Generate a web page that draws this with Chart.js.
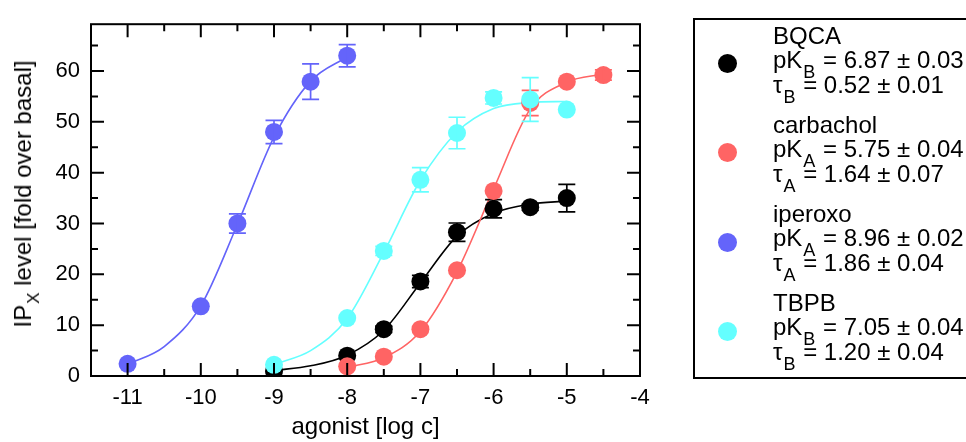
<!DOCTYPE html>
<html>
<head>
<meta charset="utf-8">
<script src="https://cdn.jsdelivr.net/npm/chart.js@4.4.0/dist/chart.umd.min.js"></script>
<style>
    body { margin: 0; background: #fff; }
    #wrap { position: relative; width: 966px; height: 442px; overflow: hidden; font-family: "Liberation Sans", Arial, sans-serif; color: #000; }
    #chart { position: absolute; left: 0; top: 0; }
    #ytitle { position: absolute; left: 23px; top: 194px; font-size: 24px; white-space: nowrap; transform: translate(-50%, -50%) rotate(-90deg); }
    #ytitle sub { font-size: 17px; vertical-align: baseline; position: relative; top: 8px; margin-left: 1px; }
    .leg sub { font-size: 18px; vertical-align: baseline; position: relative; top: 10px; margin: 0 1px; }
    #legend { position: absolute; left: 693px; top: 18px; width: 320px; height: 357px; border: 2px solid #000; }
    .dot { position: absolute; width: 19px; height: 19px; border-radius: 50%; }
    .leg { position: absolute; font-size: 24px; line-height: 24px; white-space: nowrap; }
</style>
</head>
<body>
<div id="wrap">
    <canvas id="chart" width="966" height="442"></canvas>
    <div id="ytitle">IP<sub>X</sub> level [fold over basal]</div>
    <div id="legend"></div>
</div>
<script>
const xTicks = [-11, -10, -9, -8, -7, -6, -5, -4];
const yTicks = [0, 10, 20, 30, 40, 50, 60];

// BQCA
const bqcaX = [-9, -8, -7.5, -7, -6.5, -6, -5.5, -5];
const bqcaY = [1.0, 4.0, 9.2, 18.6, 28.3, 32.9, 33.2, 35.0];
const bqcaErr = [0, 0, 0.6, 1.2, 1.8, 1.8, 0.6, 2.7];
const bqcaFitX = [-9, -8.5, -8, -7.5, -7, -6.5, -6, -5.5, -5];
const bqcaFitY = [1.1, 2.0, 4.1, 9.0, 18.3, 27.5, 32.0, 33.8, 34.4];

// carbachol
const carbX = [-8, -7.5, -7, -6.5, -6, -5.5, -5, -4.5];
const carbY = [1.9, 3.8, 9.2, 20.8, 36.4, 53.7, 57.9, 59.2];
const carbErr = [0, 0, 0, 0, 0, 2.5, 0, 1.0];
const carbFitX = [-8, -7.5, -7, -6.5, -6, -5.5, -5, -4.5];
const carbFitY = [1.7, 3.6, 8.8, 20.5, 36.8, 52.5, 57.8, 59.4];

// iperoxo
const ipX = [-11, -10, -9.5, -9, -8.5, -8];
const ipY = [2.4, 13.7, 30.0, 48.0, 57.9, 63.0];
const ipErr = [0, 0, 1.9, 2.3, 3.5, 2.2];
const ipFitX = [-11, -10.5, -10, -9.5, -9, -8.5, -8];
const ipFitY = [2.3, 5.8, 13.8, 29.8, 47.0, 58.0, 62.8];

// TBPB
const tbpbX = [-9, -8, -7.5, -7, -6.5, -6, -5.5, -5];
const tbpbY = [2.2, 11.4, 24.6, 38.6, 47.8, 54.7, 54.4, 52.4];
const tbpbErr = [0, 0, 0.9, 2.4, 3.1, 1.2, 4.3, 0];
const tbpbFitX = [-9, -8.5, -8, -7.5, -7, -6.5, -6, -5.5, -5];
const tbpbFitY = [2.3, 5.0, 11.3, 24.3, 38.5, 48.0, 52.6, 53.8, 54.0];

const names = ['BQCA', 'carbachol', 'iperoxo', 'TBPB'];
const constSub = ['B', 'A', 'A', 'B'];
const pKText = ['6.87 ± 0.03', '5.75 ± 0.04', '8.96 ± 0.02', '7.05 ± 0.04'];
const tauText = ['0.52 ± 0.01', '1.64 ± 0.07', '1.86 ± 0.04', '1.20 ± 0.04'];
const colors = ['#000000', '#ff6464', '#6464fa', '#64ffff'];

const FONT = '"Liberation Sans", Arial, sans-serif';

function pts(xs, ys) {
    return xs.map((x, i) => ({ x: x, y: ys[i] }));
}

function pointSet(label, xs, ys, errs, color, order) {
    return {
        label: label,
        data: pts(xs, ys),
        errors: errs,
        backgroundColor: color,
        borderColor: color,
        pointRadius: 9,
        pointBorderWidth: 0,
        showLine: false,
        order: order
    };
}

function fitSet(label, xs, ys, color, order) {
    return {
        label: label + ' fit',
        data: pts(xs, ys),
        borderColor: color,
        borderWidth: 1.6,
        pointRadius: 0,
        showLine: true,
        cubicInterpolationMode: 'monotone',
        order: order
    };
}

// error bars drawn with each point dataset
const errorBars = {
    id: 'errorBars',
    afterDatasetDraw(chart, args) {
        const ds = chart.data.datasets[args.index];
        if (!ds.errors) return;
        const { ctx, scales: { x, y } } = chart;
        ctx.save();
        ctx.strokeStyle = ds.borderColor;
        ctx.lineWidth = 1.7;
        ds.data.forEach((p, i) => {
            const e = ds.errors[i];
            if (!e) return;
            const px = x.getPixelForValue(p.x);
            const top = y.getPixelForValue(p.y + e);
            const bot = y.getPixelForValue(p.y - e);
            ctx.beginPath();
            ctx.moveTo(px, top); ctx.lineTo(px, bot);
            ctx.moveTo(px - 8.5, top); ctx.lineTo(px + 8.5, top);
            ctx.moveTo(px - 8.5, bot); ctx.lineTo(px + 8.5, bot);
            ctx.stroke();
        });
        ctx.restore();
    }
};

// box around the plot with inward ticks on all four sides
const frameTicks = {
    id: 'frameTicks',
    afterDraw(chart) {
        const { ctx, chartArea: a, scales: { x, y } } = chart;
        ctx.save();
        ctx.strokeStyle = '#000';
        ctx.lineWidth = 2;
        ctx.beginPath();
        const xs = [];
        xTicks.forEach(v => { xs.push([v, 13]); xs.push([v + 0.5, 7]); xs.push([v - 0.5, 7]); });
        xs.forEach(([v, len]) => {
            const px = x.getPixelForValue(v);
            if (px <= a.left + 1 || px >= a.right - 1) return;
            ctx.moveTo(px, a.bottom); ctx.lineTo(px, a.bottom - len);
            ctx.moveTo(px, a.top); ctx.lineTo(px, a.top + len);
        });
        const ys = [];
        yTicks.forEach(v => { ys.push([v, 13]); ys.push([v + 5, 7]); });
        ys.forEach(([v, len]) => {
            const py = y.getPixelForValue(v);
            if (py >= a.bottom - 1 || py <= a.top + 1) return;
            ctx.moveTo(a.left, py); ctx.lineTo(a.left + len, py);
            ctx.moveTo(a.right, py); ctx.lineTo(a.right - len, py);
        });
        ctx.stroke();
        ctx.strokeRect(a.left, a.top, a.right - a.left, a.bottom - a.top);
        ctx.restore();
    }
};

function buildLegend() {
    const box = document.getElementById('legend');
    names.forEach((name, i) => {
        const base = 44 + i * 89;
        const dot = document.createElement('div');
        dot.className = 'dot';
        dot.style.background = colors[i];
        dot.style.left = (727 - 693 - 2 - 9.5) + 'px';
        dot.style.top = (63 + i * 89.5 - 18 - 2 - 9.5) + 'px';
        box.appendChild(dot);

        const lines = [
            name,
            'pK<sub>' + constSub[i] + '</sub> = ' + pKText[i],
            'τ<sub>' + constSub[i] + '</sub> = ' + tauText[i]
        ];
        const offs = [0, 23.5, 49];
        lines.forEach((html, k) => {
            const d = document.createElement('div');
            d.className = 'leg';
            d.innerHTML = html;
            d.style.left = (773 - 693 - 2) + 'px';
            // baseline sits about 20px below the top of a 24px line
            d.style.top = (base + offs[k] - 20 - 18 - 2) + 'px';
            box.appendChild(d);
        });
    });
}

function renderChart() {
    const ctx = document.getElementById('chart').getContext('2d');
    new Chart(ctx, {
        type: 'scatter',
        data: {
            datasets: [
                pointSet(names[3], tbpbX, tbpbY, tbpbErr, colors[3], 1),
                pointSet(names[2], ipX, ipY, ipErr, colors[2], 2),
                pointSet(names[1], carbX, carbY, carbErr, colors[1], 3),
                pointSet(names[0], bqcaX, bqcaY, bqcaErr, colors[0], 4),
                fitSet(names[3], tbpbFitX, tbpbFitY, colors[3], 11),
                fitSet(names[2], ipFitX, ipFitY, colors[2], 12),
                fitSet(names[1], carbFitX, carbFitY, colors[1], 13),
                fitSet(names[0], bqcaFitX, bqcaFitY, colors[0], 14)
            ]
        },
        options: {
            responsive: false,
            animation: false,
            layout: { padding: { left: 0, right: 326, top: 14, bottom: 0 } },
            plugins: { legend: { display: false }, tooltip: { enabled: false } },
            scales: {
                x: {
                    type: 'linear',
                    min: -11.5,
                    max: -4,
                    grid: { display: false, drawTicks: false },
                    border: { display: false },
                    ticks: { color: '#000', font: { family: FONT, size: 22 }, padding: 9 },
                    afterBuildTicks: axis => { axis.ticks = xTicks.map(v => ({ value: v })); },
                    afterFit: axis => { axis.height = 66; },
                    title: {
                        display: true,
                        text: 'agonist [log c]',
                        color: '#000',
                        font: { family: FONT, size: 24 },
                        padding: { top: 0, bottom: 0 }
                    }
                },
                y: {
                    type: 'linear',
                    min: 0,
                    max: 69.2,
                    grid: { display: false, drawTicks: false },
                    border: { display: false },
                    ticks: { color: '#000', font: { family: FONT, size: 22 }, padding: 11 },
                    afterBuildTicks: axis => { axis.ticks = yTicks.map(v => ({ value: v })); },
                    afterFit: axis => { axis.width = 91; }
                }
            }
        },
        plugins: [errorBars, frameTicks]
    });
}

buildLegend();
renderChart();
</script>
</body>
</html>
